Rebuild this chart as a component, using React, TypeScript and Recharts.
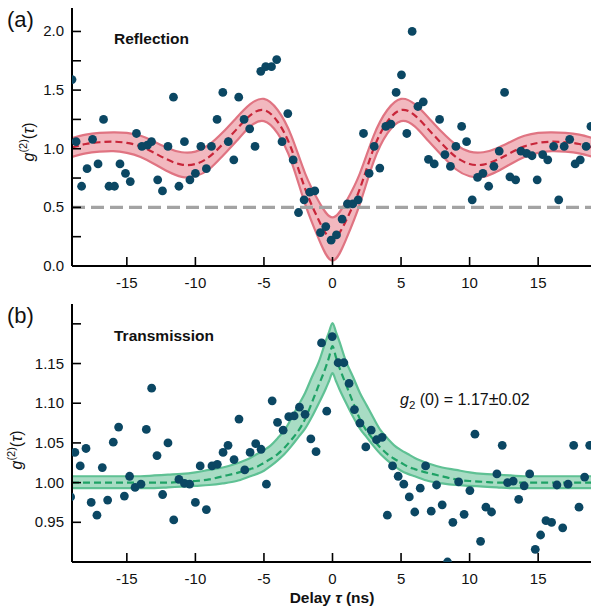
import React from 'react';
import { ComposedChart, XAxis, YAxis, Area, Line, Scatter, ReferenceLine } from 'recharts';

const FONT = '"Liberation Sans", Arial, Helvetica, sans-serif';
const DOT = '#0b4763';
const INK = '#111';

// ---------- shared x axis ----------
const xTicks = [-15, -10, -5, 0, 5, 10, 15];
const xTickLabels = ['-15', '-10', '-5', '0', '5', '10', '15'];

// ---------- panel (a): reflection ----------
const tauA = [-19, -18, -17, -16, -15, -14, -13, -12, -11, -10, -9, -8, -7, -6, -5, -4, -3, -2, -1, 0, 1, 2, 3, 4, 5, 6, 7, 8, 9, 10, 11, 12, 13, 14, 15, 16, 17, 18, 19];
const fitA = [1.01, 1.04, 1.055, 1.06, 1.05, 1.02, 0.965, 0.905, 0.865, 0.87, 0.93, 1.04, 1.165, 1.285, 1.33, 1.23, 1.0, 0.66, 0.39, 0.23, 0.39, 0.66, 1.0, 1.23, 1.33, 1.285, 1.165, 1.04, 0.93, 0.87, 0.865, 0.905, 0.965, 1.02, 1.05, 1.06, 1.055, 1.04, 1.01];
const loA = [0.93, 0.96, 0.975, 0.98, 0.965, 0.93, 0.87, 0.805, 0.76, 0.765, 0.825, 0.94, 1.065, 1.19, 1.235, 1.13, 0.89, 0.53, 0.23, 0.045, 0.23, 0.53, 0.89, 1.13, 1.235, 1.19, 1.065, 0.94, 0.825, 0.765, 0.76, 0.805, 0.87, 0.93, 0.965, 0.98, 0.975, 0.96, 0.93];
const hiA = [1.09, 1.12, 1.135, 1.14, 1.135, 1.11, 1.06, 1.005, 0.97, 0.975, 1.035, 1.14, 1.265, 1.38, 1.425, 1.33, 1.11, 0.79, 0.55, 0.415, 0.55, 0.79, 1.11, 1.33, 1.425, 1.38, 1.265, 1.14, 1.035, 0.975, 0.97, 1.005, 1.06, 1.11, 1.135, 1.14, 1.135, 1.12, 1.09];

const dotTauA = [-19.0, -18.7, -18.3, -17.9, -17.5, -17.1, -16.7, -16.3, -15.9, -15.5, -15.1, -14.75, -14.3, -13.9, -13.5, -13.2, -12.75, -12.4, -12.0, -11.6, -11.2, -10.8, -10.4, -10.0, -9.6, -9.2, -8.83, -8.42, -8.0, -7.6, -7.2, -6.84, -6.45, -6.04, -5.65, -5.23, -4.87, -4.45, -4.07, -3.68, -3.26, -2.87, -2.48, -2.07, -1.66, -1.29, -0.88, -0.49, -0.1, 0.29, 0.7, 1.09, 1.48, 1.87, 2.26, 2.67, 3.04, 3.45, 3.89, 4.26, 4.64, 5.03, 5.42, 5.81, 6.23, 6.62, 7.0, 7.42, 7.81, 8.2, 8.6, 9.0, 9.42, 9.78, 10.19, 10.58, 10.97, 11.39, 11.77, 12.16, 12.55, 12.94, 13.36, 13.74, 14.16, 14.55, 14.93, 15.33, 15.7, 16.13, 16.5, 16.9, 17.3, 17.7, 18.07, 18.5, 18.85];
const dotValA = [1.59, 1.06, 0.68, 0.83, 1.08, 0.87, 1.25, 0.68, 0.68, 0.87, 0.79, 0.72, 1.13, 1.02, 1.03, 1.06, 0.735, 0.64, 1.02, 1.44, 0.68, 1.06, 0.735, 0.79, 1.02, 0.83, 1.02, 1.25, 1.48, 1.06, 0.905, 1.44, 1.25, 1.17, 1.02, 1.66, 1.70, 1.70, 1.76, 1.06, 1.30, 0.905, 0.456, 0.564, 0.63, 0.64, 0.285, 0.336, 0.22, 0.265, 0.40, 0.53, 0.53, 0.564, 1.13, 0.79, 1.02, 0.835, 1.19, 1.21, 1.48, 1.63, 1.13, 2.00, 1.36, 1.40, 0.91, 0.87, 1.25, 0.95, 0.85, 1.02, 1.19, 1.06, 0.564, 0.755, 0.79, 0.68, 0.85, 0.98, 1.48, 0.76, 0.735, 0.98, 0.96, 0.94, 0.735, 0.95, 0.905, 1.02, 0.564, 1.02, 1.08, 0.87, 0.905, 1.02, 1.19];

const yTicksA = [0, 0.25, 0.5, 0.75, 1.0, 1.25, 1.5, 1.75, 2.0];
const yLabelsA = ['0.0', '', '0.5', '', '1.0', '', '1.5', '', '2.0'];
const classicalLimit = 0.5;

// ---------- panel (b): transmission ----------
const tauB = [-19, -18, -17, -16, -15, -14, -13, -12, -11, -10, -9, -8, -7, -6, -5.5, -5, -4.5, -4, -3.5, -3, -2.5, -2, -1.5, -1, -0.5, -0.25, 0, 0.25, 0.5, 1, 1.5, 2, 2.5, 3, 3.5, 4, 4.5, 5, 5.5, 6, 7, 8, 9, 10, 11, 12, 13, 14, 15, 16, 17, 18, 19];
const fitB = [1.0, 1.0, 1.0, 1.0, 1.0, 1.0, 1.0, 1.0, 1.001, 1.002, 1.004, 1.008, 1.012, 1.017, 1.02, 1.025, 1.03, 1.036, 1.044, 1.054, 1.065, 1.08, 1.101, 1.123, 1.145, 1.158, 1.172, 1.158, 1.145, 1.123, 1.101, 1.08, 1.065, 1.054, 1.044, 1.036, 1.03, 1.025, 1.02, 1.017, 1.012, 1.008, 1.004, 1.002, 1.001, 1.0, 1.0, 1.0, 1.0, 1.0, 1.0, 1.0, 1.0];
const hiB = [1.008, 1.008, 1.008, 1.008, 1.008, 1.008, 1.009, 1.01, 1.011, 1.013, 1.016, 1.019, 1.024, 1.031, 1.036, 1.041, 1.047, 1.056, 1.066, 1.081, 1.097, 1.113, 1.133, 1.152, 1.178, 1.19, 1.201, 1.19, 1.178, 1.152, 1.133, 1.113, 1.097, 1.081, 1.066, 1.056, 1.047, 1.041, 1.036, 1.031, 1.024, 1.019, 1.016, 1.013, 1.011, 1.01, 1.009, 1.008, 1.008, 1.008, 1.008, 1.008, 1.008];
const loB = [0.993, 0.993, 0.993, 0.993, 0.993, 0.993, 0.993, 0.994, 0.995, 0.996, 0.997, 0.999, 1.002, 1.008, 1.011, 1.015, 1.021, 1.028, 1.036, 1.046, 1.057, 1.068, 1.083, 1.1, 1.118, 1.128, 1.138, 1.128, 1.118, 1.1, 1.083, 1.068, 1.057, 1.046, 1.036, 1.028, 1.021, 1.015, 1.011, 1.008, 1.002, 0.999, 0.997, 0.996, 0.995, 0.994, 0.993, 0.993, 0.993, 0.993, 0.993, 0.993, 0.993];

const dotTauB = [-19.1, -18.79, -18.4, -17.98, -17.6, -17.18, -16.79, -16.4, -15.99, -15.6, -15.18, -14.8, -14.4, -13.97, -13.58, -13.19, -12.8, -12.39, -12.0, -11.58, -11.2, -10.8, -10.42, -10.0, -9.65, -9.2, -8.79, -8.4, -7.98, -7.62, -7.18, -6.82, -6.4, -6.01, -5.6, -5.21, -4.82, -4.4, -4.01, -3.6, -3.19, -2.8, -2.41, -2.0, -1.58, -1.2, -0.8, -0.42, -0.02, 0.41, 0.83, 1.21, 1.6, 2.0, 2.43, 2.82, 3.21, 3.62, 4.0, 4.38, 4.79, 5.2, 5.6, 6.0, 6.4, 6.79, 7.2, 7.59, 8.0, 8.39, 8.78, 9.2, 9.6, 10.02, 10.39, 10.8, 11.19, 11.6, 11.99, 12.38, 12.77, 13.18, 13.58, 13.98, 14.38, 14.79, 15.18, 15.57, 15.98, 16.37, 16.79, 17.18, 17.59, 17.98, 18.39, 18.76];
const dotValB = [0.982, 1.038, 1.021, 1.043, 0.975, 0.959, 1.019, 0.978, 1.051, 1.070, 0.983, 1.008, 0.994, 0.998, 1.067, 1.119, 1.034, 0.985, 1.050, 0.953, 1.004, 0.999, 0.998, 0.975, 1.021, 0.966, 1.021, 1.023, 1.038, 1.047, 1.029, 1.080, 1.016, 1.038, 1.049, 1.042, 0.998, 1.103, 1.076, 1.066, 1.083, 1.084, 1.095, 1.086, 1.055, 1.039, 1.176, 1.090, 1.184, 1.151, 1.151, 1.125, 1.092, 1.075, 1.045, 1.066, 1.054, 1.057, 0.959, 1.021, 1.008, 0.998, 0.982, 0.963, 0.993, 1.021, 0.964, 0.997, 0.972, 0.900, 0.950, 1.001, 0.960, 0.990, 1.061, 0.926, 0.969, 0.963, 1.011, 1.047, 1.000, 1.002, 0.979, 0.996, 1.011, 0.916, 0.934, 0.952, 0.950, 0.997, 0.943, 0.998, 1.047, 0.969, 1.007, 1.047];

const yTicksB = [0.95, 1.0, 1.05, 1.1, 1.15, 1.2];
const yLabelsB = ['0.95', '1.00', '1.05', '1.10', '1.15', ''];

// ---------- rows built from arrays ----------
const rowsA = tauA.map((t, i) => ({ t, fit: fitA[i], band: [loA[i], hiA[i]] }));
const dotsA = dotTauA.map((t, i) => ({ t, g: dotValA[i] }));
const rowsB = tauB.map((t, i) => ({ t, fit: fitB[i], band: [loB[i], hiB[i]] }));
const dotsB = dotTauB.map((t, i) => ({ t, g: dotValB[i] }));

// ---------- tick renderers (inward ticks) ----------
const TICK_MARGIN = 6;
const XTick = (props: any) => {
  const { x, y, payload } = props;
  const axisY = y - TICK_MARGIN;
  const idx = xTicks.indexOf(payload.value);
  return (
    <g>
      <line x1={x} x2={x} y1={axisY} y2={axisY - 9} stroke="#000" strokeWidth={1.6} />
      <text x={x} y={axisY + 22} textAnchor="middle" fontSize={15} fontFamily={FONT} fill={INK}>
        {idx >= 0 ? xTickLabels[idx] : ''}
      </text>
    </g>
  );
};

const makeYTick = (ticks: number[], labels: string[]) => (props: any) => {
  const { x, y, payload } = props;
  const axisX = x + TICK_MARGIN;
  const idx = ticks.findIndex((v) => Math.abs(v - payload.value) < 1e-9);
  const lbl = idx >= 0 ? labels[idx] : '';
  return (
    <g>
      <line x1={axisX} x2={axisX + 9} y1={y} y2={y} stroke="#000" strokeWidth={1.6} />
      {lbl ? (
        <text x={axisX - 8} y={y + 5} textAnchor="end" fontSize={15} fontFamily={FONT} fill={INK}>
          {lbl}
        </text>
      ) : null}
    </g>
  );
};
const YTickA = makeYTick(yTicksA, yLabelsA);
const YTickB = makeYTick(yTicksB, yLabelsB);

const dotShape = (p: any) => <circle cx={p.cx} cy={p.cy} r={4.4} fill={DOT} />;

const AX = { stroke: '#000', strokeWidth: 2 };

const abs = (left: number, top: number, extra: React.CSSProperties = {}): React.CSSProperties => ({
  position: 'absolute',
  left,
  top,
  fontFamily: FONT,
  color: INK,
  lineHeight: 1,
  whiteSpace: 'nowrap',
  ...extra,
});

const YLabel = ({ cx, cy }: { cx: number; cy: number }) => (
  <div
    style={abs(cx, cy, {
      transform: 'translate(-50%, -50%) rotate(-90deg)',
      fontSize: 16,
    })}
  >
    <i>g</i>
    <span style={{ fontSize: 11, position: 'relative', top: -7 }}>(2)</span>
    (<i>τ</i>)
  </div>
);

export default function App() {
  return (
    <div style={{ position: 'absolute', left: 0, top: 0, width: 591, height: 608, overflow: 'hidden', background: '#fff' }}>
      <div style={{ position: 'absolute', left: 0, top: 0 }}>
        <ComposedChart width={600} height={296} data={rowsA} margin={{ top: 8, right: 7, left: 0, bottom: 0 }}>
          <XAxis dataKey="t" type="number" domain={[-19, 19]} allowDataOverflow ticks={xTicks} interval={0}
            height={30} tickSize={0} tickMargin={TICK_MARGIN} tickLine={false} axisLine={AX} tick={XTick} />
          <XAxis xAxisId="top" orientation="top" type="number" domain={[-19, 19]} allowDataOverflow height={0}
            tick={false} tickLine={false} axisLine={AX} />
          <YAxis type="number" domain={[0, 2.2]} allowDataOverflow ticks={yTicksA} interval={0} width={72}
            tickSize={0} tickMargin={TICK_MARGIN} tickLine={false} axisLine={AX} tick={YTickA} />
          <Area dataKey="band" type="natural" stroke="#e07482" strokeWidth={2.2} fill="#f2b8bf" fillOpacity={1}
            isAnimationActive={false} dot={false} activeDot={false} />
          <ReferenceLine y={classicalLimit} stroke="#a3a3a3" strokeWidth={3.2} strokeDasharray="13 6" />
          <Line dataKey="fit" type="natural" stroke="#c8263a" strokeWidth={2.2} strokeDasharray="7 4" dot={false}
            activeDot={false} isAnimationActive={false} />
          <Scatter data={dotsA} dataKey="g" fill={DOT} shape={dotShape} isAnimationActive={false} />
        </ComposedChart>
      </div>
      <div style={{ position: 'absolute', left: 0, top: 296 }}>
        <ComposedChart width={600} height={312} data={rowsB} margin={{ top: 8, right: 7, left: 0, bottom: 0 }}>
          <XAxis dataKey="t" type="number" domain={[-19, 19]} allowDataOverflow ticks={xTicks} interval={0}
            height={46} tickSize={0} tickMargin={TICK_MARGIN} tickLine={false} axisLine={AX} tick={XTick} />
          <XAxis xAxisId="top" orientation="top" type="number" domain={[-19, 19]} allowDataOverflow height={0}
            tick={false} tickLine={false} axisLine={AX} />
          <YAxis type="number" domain={[0.9, 1.225]} allowDataOverflow ticks={yTicksB} interval={0} width={72}
            tickSize={0} tickMargin={TICK_MARGIN} tickLine={false} axisLine={AX} tick={YTickB} />
          <Area dataKey="band" type="monotone" stroke="#5fc194" strokeWidth={2.2} fill="#a8dcc4" fillOpacity={1}
            isAnimationActive={false} dot={false} activeDot={false} />
          <Line dataKey="fit" type="monotone" stroke="#1fa266" strokeWidth={2.2} strokeDasharray="7 4" dot={false}
            activeDot={false} isAnimationActive={false} />
          <Scatter data={dotsB} dataKey="g" fill={DOT} shape={dotShape} isAnimationActive={false} />
        </ComposedChart>
      </div>

      <div style={abs(7, 9, { fontSize: 22 })}>(a)</div>
      <div style={abs(7, 305, { fontSize: 22 })}>(b)</div>
      <div style={abs(114, 31, { fontSize: 15.5, fontWeight: 'bold' })}>Reflection</div>
      <div style={abs(114, 328, { fontSize: 15.5, fontWeight: 'bold' })}>Transmission</div>
      <div style={abs(400, 390, { fontSize: 16 })}>
        <i>g</i>
        <span style={{ fontSize: 11.5, position: 'relative', top: 4 }}>2</span> (0) = 1.17<span style={{ fontSize: 18 }}>±</span>0.02
      </div>
      <div style={abs(332, 598, { fontSize: 15.5, fontWeight: 'bold', transform: 'translate(-50%, -50%)' })}>
        Delay <i>τ</i> (ns)
      </div>
      <YLabel cx={29} cy={142} />
      <YLabel cx={17} cy={450} />
    </div>
  );
}
